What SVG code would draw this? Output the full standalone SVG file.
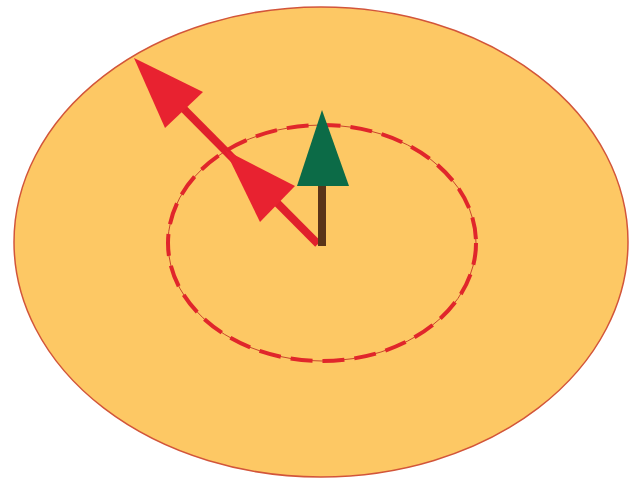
<svg xmlns="http://www.w3.org/2000/svg" width="636" height="479" viewBox="0 0 636 479">
<style>
.red{fill:#E82230;}
</style>
<rect width="636" height="479" fill="#ffffff"/>
<g id="outer">
<ellipse cx="321" cy="242" rx="307" ry="235" fill="#FDC864" stroke="#D2553A" stroke-width="1.5"/>
</g>
<g id="inner">
<ellipse cx="322" cy="243" rx="154" ry="118" fill="none" stroke="#C9472C" stroke-width="1"/>
<ellipse cx="322" cy="243" rx="154" ry="118" fill="none" stroke="#E0262B" stroke-width="4" stroke-dasharray="22 10"/>
</g>
<g id="connectors">
<line x1="318" y1="244" x2="170" y2="95" stroke="#E0202C" stroke-width="8"/>
<polygon class="red" points="134,58 203,92 165,128"/>
<polygon class="red" points="225,150 295,186 260,222"/>
</g>
<g id="tree">
<line x1="322" y1="186" x2="322" y2="246" stroke="#5A3418" stroke-width="8"/>
<polygon points="322,110 297,186 349,186" fill="#0C6B47"/>
</g>
</svg>
